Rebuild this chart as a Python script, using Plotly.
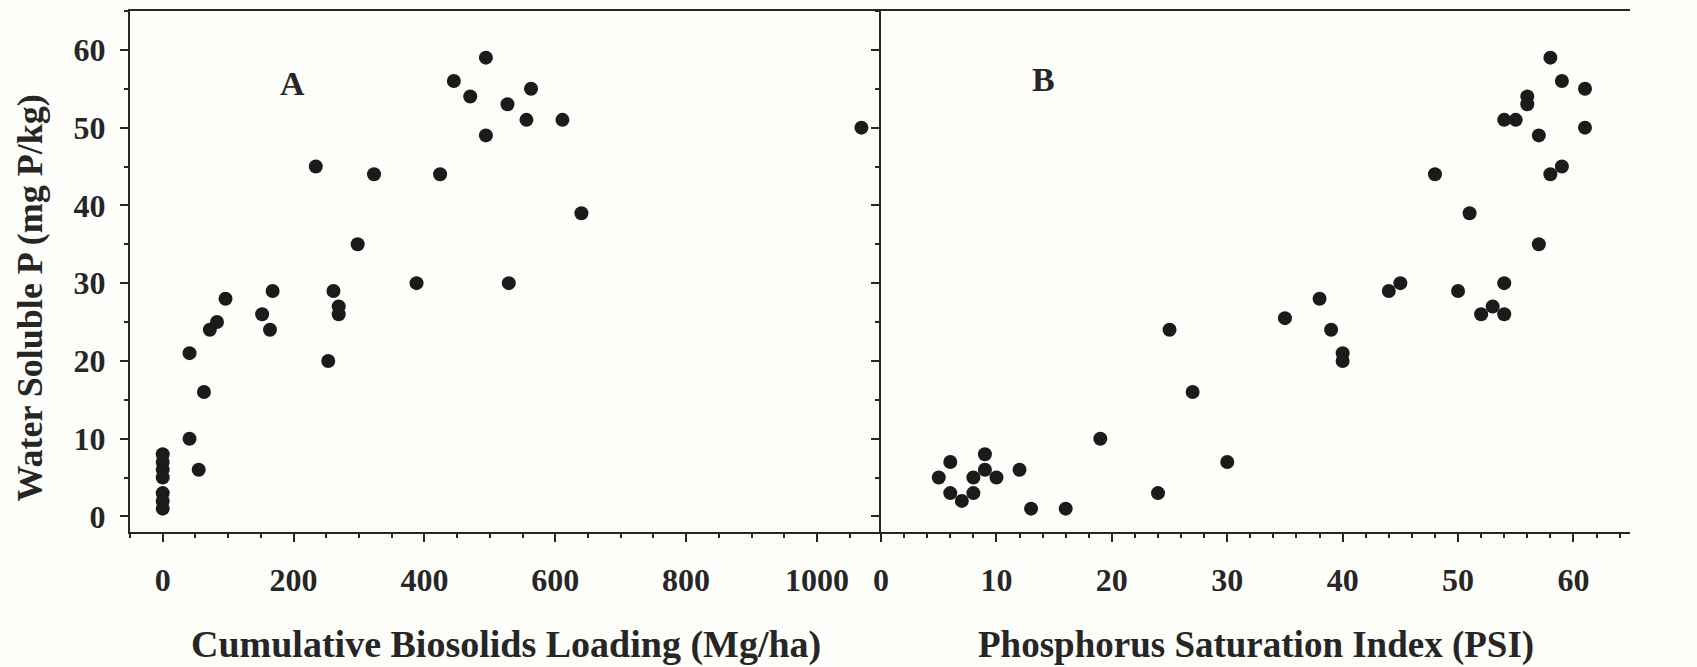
import plotly.graph_objects as go

# ---- data ----
loading = [0, 0, 0, 0, 0, 0, 0, 41, 41, 55, 63, 72, 83, 96, 152, 164, 168, 234, 253,
           261, 269, 269, 298, 323, 388, 424, 445, 470, 494, 494, 527, 529, 556, 563,
           611, 640, 1068]
wsp_a = [8, 7, 6, 5, 3, 2, 1, 21, 10, 6, 16, 24, 25, 28, 26, 24, 29, 45, 20,
         29, 27, 26, 35, 44, 30, 44, 56, 54, 59, 49, 53, 30, 51, 55,
         51, 39, 50]

psi = [5, 6, 6, 7, 8, 8, 9, 9, 10, 12, 13, 16, 19, 24, 25, 27, 30, 35, 38, 39, 40, 40,
       44, 45, 48, 50, 51, 52, 53, 54, 54, 54, 55, 56, 56, 57, 57, 58, 58, 59, 59, 61, 61]
wsp_b = [5, 7, 3, 2, 3, 5, 8, 6, 5, 6, 1, 1, 10, 3, 24, 16, 7, 25.5, 28, 24, 21, 20,
         29, 30, 44, 29, 39, 26, 27, 30, 26, 51, 51, 54, 53, 49, 35, 59, 44, 56, 45, 55, 50]

x_a_ticks = [0, 200, 400, 600, 800, 1000]
x_b_ticks = [0, 10, 20, 30, 40, 50, 60]
y_ticks = [0, 10, 20, 30, 40, 50, 60]

x_a_title = "Cumulative Biosolids Loading (Mg/ha)"
x_b_title = "Phosphorus Saturation Index (PSI)"
y_title = "Water Soluble P (mg P/kg)"

# ---- style ----
INK = "#262626"
BG = "#fdfdfa"
FONT = "Liberation Serif"
tickfont = dict(family=FONT, size=32, color=INK, weight="bold")
LW = 2

fig = go.Figure()
fig.add_trace(go.Scatter(x=loading, y=wsp_a, mode="markers", xaxis="x", yaxis="y",
                         marker=dict(size=14, color="#1b1b1b"), showlegend=False,
                         hoverinfo="skip"))
fig.add_trace(go.Scatter(x=psi, y=wsp_b, mode="markers", xaxis="x2", yaxis="y2",
                         marker=dict(size=14, color="#1b1b1b"), showlegend=False,
                         hoverinfo="skip"))

YR = [-2, 65]
split = 0.5007

common = dict(showgrid=False, zeroline=False, linecolor=INK, linewidth=LW,
              tickcolor=INK, tickwidth=LW, tickfont=tickfont)


def ymajor(ticks, show_labels, **kw):
    d = dict(common)
    d.update(range=YR, tickmode="array", tickvals=y_ticks, ticklen=8, ticks=ticks,
             showticklabels=show_labels,
             minor=dict(tickmode="linear", tick0=0, dtick=5, ticks=ticks, ticklen=4,
                        tickcolor=INK, tickwidth=1.5))
    d.update(kw)
    return d


layout = dict(
    width=1697, height=667,
    margin=dict(l=130, r=67, t=9, b=135),
    paper_bgcolor=BG, plot_bgcolor=BG,
    xaxis=dict(common, domain=[0, split], range=[-50, 1098], anchor="y",
               showline=True, mirror=True, ticks="outside", ticklen=8,
               tickmode="array", tickvals=x_a_ticks, ticklabelstandoff=11,
               minor=dict(tickmode="linear", tick0=0, dtick=50, ticks="outside",
                          ticklen=4, tickcolor=INK, tickwidth=1.5)),
    xaxis2=dict(common, domain=[split, 1], range=[0, 64.9], anchor="y2",
                showline=True, mirror=True, ticks="outside", ticklen=8,
                tickmode="array", tickvals=x_b_ticks, ticklabelstandoff=11,
                minor=dict(tickmode="linear", tick0=0, dtick=2, ticks="outside",
                           ticklen=4, tickcolor=INK, tickwidth=1.5)),
    yaxis=ymajor("outside", True, anchor="x", side="left", showline=True,
                 ticklabelstandoff=8),
    yaxis4=ymajor("inside", False, anchor="x", side="left", overlaying="y",
                  showline=False),
    yaxis2=ymajor("outside", False, anchor="x2", side="left", showline=True),
    yaxis5=ymajor("inside", False, anchor="x2", side="left", overlaying="y2",
                  showline=False),
    yaxis3=ymajor("outside", True, anchor="x2", side="right", overlaying="y2",
                  showline=True, ticklabelstandoff=9),
    yaxis6=ymajor("inside", False, anchor="x2", side="right", overlaying="y2",
                  showline=False),
)
fig.update_layout(**layout)

title_font = dict(family=FONT, size=37, color=INK, weight="bold")
panel_font = dict(family=FONT, size=34, color=INK, weight="bold")
fig.add_annotation(text=x_a_title, xref="paper", yref="paper", x=split / 2, y=-0.216,
                   showarrow=False, font=dict(title_font, size=38),
                   xanchor="center", yanchor="middle")
fig.add_annotation(text=x_b_title, xref="paper", yref="paper", x=(1 + split) / 2, y=-0.216,
                   showarrow=False, font=title_font, xanchor="center", yanchor="middle")
fig.add_annotation(text=y_title, xref="paper", yref="paper", x=-0.0667, y=0.45,
                   textangle=-90, showarrow=False, font=dict(title_font, size=36),
                   xanchor="center", yanchor="middle")
fig.add_annotation(text="A", xref="x", yref="y", x=199, y=55.7, showarrow=False,
                   font=panel_font)
fig.add_annotation(text="B", xref="x2", yref="y2", x=14.1, y=56.2, showarrow=False,
                   font=panel_font)

fig.write_html("out.html")
